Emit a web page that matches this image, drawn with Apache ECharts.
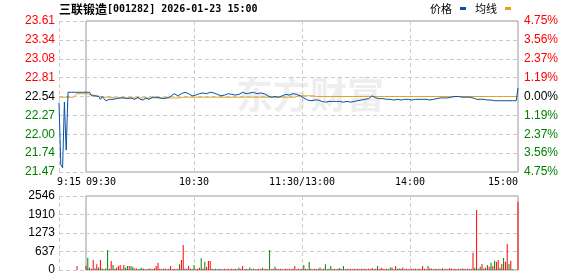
<!DOCTYPE html>
<html><head><meta charset="utf-8">
<script src="https://cdn.jsdelivr.net/npm/echarts@6/dist/echarts.min.js"></script>
<style>html,body{margin:0;padding:0;background:#fff}#c{width:578px;height:276px}</style>
</head><body><div id="c"></div>
<script>
const stockName = '三联锻造';
const stockCode = '001282';
const stamp = '2026-01-23 15:00';
const prevClose = 22.54;
const priceTickLabels = ['21.47','21.74','22.00','22.27','22.54','22.81','23.08','23.34','23.61'];
const pctTickLabels = ['4.75%','3.56%','2.37%','1.19%','0.00%','1.19%','2.37%','3.56%','4.75%'];
const volTickLabels = ['0','637','1273','1910','2546'];
const volMax = 2546;
const pctMax = 4.75;

// call auction 9:15 - 9:30
const preTimes = ['9:15','9:16','9:17','9:18','9:19','9:20','9:21','9:22','9:23','9:24','9:25','9:26','9:27','9:28','9:29','9:30'];
const prePrice = [22.45,21.57,21.53,22.46,21.78,22.60,22.60,22.60,22.60,22.60,22.60,22.60,22.60,22.60,22.60,22.60];
const preAvg = [22.53,22.53,22.53,22.53,22.53,22.53,22.53,22.53,22.53,22.53,22.58,22.58,22.58,22.58,22.58,22.58];
const preVol = [0,0,0,0,0,0,0,0,0,0,140,0,0,0,0,0];
const preDir = 'rrrrrrrrrrrrrrrr';

// trading session 9:30-11:30, 13:00-15:00
const price = [
22.60,22.58,22.60,22.55,22.54,22.55,22.53,22.54,22.50,22.54,
22.55,22.48,22.47,22.50,22.48,22.50,22.52,22.51,22.50,22.52,
22.53,22.52,22.54,22.51,22.50,22.52,22.51,22.50,22.52,22.53,
22.50,22.51,22.49,22.52,22.51,22.50,22.52,22.53,22.54,22.53,
22.53,22.52,22.50,22.51,22.53,22.52,22.52,22.54,22.56,22.58,
22.57,22.55,22.56,22.58,22.59,22.60,22.59,22.58,22.56,22.55,
22.57,22.56,22.57,22.58,22.58,22.59,22.59,22.58,22.58,22.60,
22.60,22.59,22.58,22.57,22.57,22.55,22.54,22.56,22.57,22.58,
22.58,22.57,22.55,22.56,22.55,22.57,22.58,22.60,22.59,22.58,
22.59,22.59,22.60,22.60,22.59,22.58,22.59,22.59,22.58,22.58,
22.56,22.55,22.54,22.53,22.53,22.54,22.54,22.53,22.54,22.55,
22.56,22.57,22.56,22.56,22.57,22.58,22.58,22.57,22.56,22.55,
22.53,22.52,22.50,22.49,22.49,22.48,22.49,22.49,22.50,22.49,
22.48,22.47,22.47,22.46,22.47,22.47,22.46,22.47,22.47,22.47,
22.46,22.47,22.47,22.46,22.47,22.47,22.47,22.46,22.47,22.47,
22.47,22.48,22.48,22.49,22.49,22.50,22.48,22.51,22.53,22.55,
22.53,22.52,22.51,22.51,22.52,22.51,22.51,22.50,22.51,22.50,
22.50,22.49,22.49,22.50,22.50,22.49,22.50,22.50,22.49,22.50,
22.49,22.49,22.50,22.50,22.50,22.50,22.51,22.50,22.50,22.50,
22.49,22.49,22.49,22.50,22.50,22.51,22.51,22.52,22.51,22.52,
22.52,22.52,22.53,22.53,22.53,22.54,22.54,22.54,22.54,22.53,
22.53,22.53,22.53,22.53,22.53,22.52,22.50,22.50,22.49,22.50,
22.50,22.50,22.50,22.49,22.49,22.49,22.49,22.48,22.48,22.48,
22.48,22.48,22.48,22.48,22.48,22.48,22.48,22.48,22.48,22.48,
22.66];
const avgPrice = [
22.58,22.58,22.57,22.57,22.56,22.56,22.55,22.55,22.54,22.54,
22.53,22.53,22.53,22.53,22.53,22.52,22.52,22.52,22.52,22.52,
22.52,22.52,22.52,22.52,22.52,22.52,22.52,22.52,22.52,22.52,
22.52,22.52,22.52,22.52,22.52,22.52,22.52,22.52,22.52,22.52,
22.52,22.52,22.52,22.52,22.52,22.52,22.52,22.52,22.52,22.52,
22.52,22.52,22.52,22.52,22.53,22.53,22.53,22.53,22.53,22.53,
22.53,22.53,22.53,22.53,22.53,22.53,22.53,22.53,22.53,22.53,
22.53,22.53,22.53,22.53,22.53,22.53,22.53,22.53,22.53,22.53,
22.53,22.53,22.53,22.53,22.53,22.53,22.53,22.53,22.53,22.53,
22.53,22.53,22.53,22.53,22.53,22.53,22.53,22.53,22.53,22.53,
22.53,22.53,22.53,22.53,22.53,22.53,22.53,22.53,22.53,22.53,
22.53,22.53,22.53,22.53,22.53,22.53,22.53,22.53,22.55,22.55,
22.55,22.55,22.55,22.55,22.55,22.55,22.55,22.54,22.54,22.54,
22.54,22.54,22.54,22.54,22.54,22.54,22.54,22.54,22.54,22.54,
22.54,22.54,22.54,22.54,22.54,22.54,22.54,22.54,22.54,22.54,
22.54,22.54,22.54,22.54,22.54,22.54,22.54,22.54,22.54,22.54,
22.54,22.54,22.54,22.54,22.54,22.54,22.54,22.54,22.54,22.54,
22.54,22.54,22.54,22.54,22.54,22.54,22.54,22.54,22.54,22.54,
22.54,22.54,22.54,22.54,22.54,22.54,22.54,22.54,22.54,22.54,
22.54,22.54,22.54,22.54,22.54,22.54,22.54,22.54,22.54,22.54,
22.54,22.54,22.54,22.54,22.54,22.54,22.54,22.54,22.54,22.54,
22.54,22.54,22.54,22.54,22.54,22.54,22.54,22.54,22.54,22.54,
22.54,22.54,22.54,22.54,22.54,22.54,22.54,22.54,22.54,22.54,
22.54,22.54,22.54,22.54,22.54,22.54,22.54,22.54,22.54,22.54,
22.54];
const volume = [
150,420,90,40,344,60,200,90,344,50,
30,60,688,40,310,170,40,80,140,170,
40,170,80,140,140,140,100,50,50,30,
40,80,40,30,30,50,40,30,60,140,
250,40,30,40,50,30,40,140,30,40,
30,40,200,344,860,40,40,140,40,30,
170,30,40,80,400,50,285,100,310,310,
40,30,40,30,40,30,30,40,30,40,
30,40,30,40,30,80,40,140,30,40,
30,90,30,40,30,30,40,30,80,30,
40,30,688,30,40,110,40,30,40,30,
30,40,30,40,30,40,140,30,40,30,
40,170,40,30,275,40,30,40,30,40,
90,30,40,200,30,40,140,30,40,30,
40,70,30,140,30,40,30,40,30,40,
30,40,30,40,30,40,30,40,30,70,
30,40,140,30,80,40,30,40,30,90,
90,30,140,40,50,40,90,30,40,30,
30,40,30,40,30,40,30,140,40,30,
140,60,40,30,40,30,40,30,60,30,
40,30,60,40,30,40,30,40,30,50,
40,30,40,30,40,595,80,2064,40,110,
206,50,80,172,110,250,140,320,286,344,
80,206,413,286,894,206,320,30,0,0,
2350];
const volDir =
'rggrrrrgrg'+'rggrrgrrrr'+'grggrggrrr'+'ggrgrrgrrr'+'rrgrrrgrrr'+
'grgrrrgrrg'+'grrrgrgrrr'+'rggrgrrrgr'+'rrgrrgrrgr'+'rgrgrrrrgr'+
'rrgrrgrrrr'+'rrrrrrrrrr'+'rgrrgrgrrr'+'grrgrggrrr'+'rgrgrrrrrr'+
'rrrrgrrrrr'+'rrgrrrrrrg'+'grrrgrrrrr'+'rrrrrrrrrr'+'grrrgrrrgr'+
'rrrrrrrrrg'+'rrrrrrgrgg'+'rrrgrgrgrr'+'grgrrgrgrr'+'r';

// trading-session minute categories
const tradeTimes = [];
for (let i = 0; i <= 240; i++) {
  let m = i <= 120 ? 9 * 60 + 30 + i : 13 * 60 + (i - 120);
  let s = String(Math.floor(m / 60)).padStart(2, '0') + ':' + String(m % 60).padStart(2, '0');
  if (i === 120) s = '11:30/13:00';
  tradeTimes.push(s);
}

const toPct = p => p == null ? null : (p / prevClose - 1) * 100;
const RED = '#ff0000', GREEN = '#008000', BLUE = '#0a50a5', ORANGE = '#e2a21c';
const GRIDC = '#cccccc', BORDER = '#999999';
const dash = { type: [4, 3], color: GRIDC, width: 1 };
const monoFont = 'DejaVu Sans Mono';
const numFont = 'Liberation Sans';

const tickIdx = v => Math.round((Number(v) + pctMax) / (pctMax / 4));
const tickColor = v => { const k = tickIdx(v); return k > 4 ? RED : (k < 4 ? GREEN : '#000'); };

const chart = echarts.init(document.getElementById('c'), null, { renderer: 'canvas' });
chart.setOption({
  animation: false,
  backgroundColor: '#fff',
  title: {
    left: 59, top: 3, padding: 0,
    text: '{a|' + stockName + '}{b|[' + stockCode + '] ' + stamp + '}',
    textStyle: { rich: {
      a: { fontFamily: 'Noto Sans CJK SC', fontSize: 12, color: '#000' },
      b: { fontFamily: monoFont, fontSize: 10, color: '#000' }
    } }
  },
  legend: {
    left: 430, top: 3, padding: 0,
    data: ['价格', '均线'],
    icon: 'rect', itemWidth: 6, itemHeight: 3, align: 'right', itemGap: 9,
    textStyle: { fontFamily: 'Noto Sans CJK SC', fontSize: 11, color: '#000', padding: [0, 3, 0, 0] }
  },
  graphic: [{
    type: 'text', left: 236, top: 76, z: -10, silent: true,
    style: { text: '东方财富', font: 'bold 37px "Noto Sans CJK SC"', fill: '#eeeeee' }
  }],
  grid: [
    { left: 59, top: 21, width: 27, height: 151, show: false },
    { left: 86, top: 21, width: 432, height: 151, show: true, borderColor: BORDER, borderWidth: 1, backgroundColor: 'transparent' },
    { left: 59, top: 196, width: 27, height: 74, show: false },
    { left: 86, top: 196, width: 432, height: 74, show: true, borderColor: BORDER, borderWidth: 1, backgroundColor: 'transparent' }
  ],
  xAxis: [
    { type: 'category', gridIndex: 0, data: preTimes, boundaryGap: false,
      axisLine: { show: false }, axisTick: { show: false },
      axisLabel: { interval: (i) => i === 0, alignMinLabel: 'left', margin: 5, fontFamily: monoFont, fontSize: 10, color: '#000', padding: [0, 0, 0, -2] },
      splitLine: { show: true, interval: (i) => i === 0, lineStyle: dash } },
    { type: 'category', gridIndex: 1, data: tradeTimes, boundaryGap: false,
      axisLine: { show: false }, axisTick: { show: false },
      axisLabel: { interval: (i) => i % 60 === 0, alignMinLabel: 'left', alignMaxLabel: 'right', margin: 5, fontFamily: monoFont, fontSize: 10, color: '#000' },
      splitLine: { show: true, interval: (i) => i % 60 === 0 && i > 0 && i < 240, lineStyle: dash } },
    { type: 'category', gridIndex: 2, data: preTimes, boundaryGap: false,
      axisLine: { show: false }, axisTick: { show: false }, axisLabel: { show: false },
      splitLine: { show: true, interval: (i) => i === 0, lineStyle: dash } },
    { type: 'category', gridIndex: 3, data: tradeTimes, boundaryGap: false,
      axisLine: { show: false }, axisTick: { show: false }, axisLabel: { show: false },
      splitLine: { show: true, interval: (i) => i % 60 === 0 && i > 0 && i < 240, lineStyle: dash } }
  ],
  yAxis: [
    { type: 'value', gridIndex: 0, position: 'left', min: -pctMax, max: pctMax, interval: pctMax / 4,
      axisLine: { show: false }, axisTick: { show: false },
      axisLabel: { margin: 4, fontFamily: numFont, fontSize: 12, formatter: v => priceTickLabels[tickIdx(v)], color: tickColor },
      splitLine: { show: true, lineStyle: dash } },
    { type: 'value', gridIndex: 1, position: 'right', min: -pctMax, max: pctMax, interval: pctMax / 4,
      axisLine: { show: false }, axisTick: { show: false },
      axisLabel: { margin: 6, fontFamily: numFont, fontSize: 12, formatter: v => pctTickLabels[tickIdx(v)], color: tickColor },
      splitLine: { show: true, showMinLine: false, showMaxLine: false, lineStyle: dash } },
    { type: 'value', gridIndex: 2, position: 'left', min: 0, max: volMax, interval: volMax / 4,
      axisLine: { show: false }, axisTick: { show: false },
      axisLabel: { margin: 4, fontFamily: numFont, fontSize: 12, color: '#000', formatter: v => volTickLabels[Math.round(v / (volMax / 4))] },
      splitLine: { show: true, lineStyle: dash } },
    { type: 'value', gridIndex: 3, position: 'right', min: 0, max: volMax, interval: volMax / 4,
      axisLine: { show: false }, axisTick: { show: false }, axisLabel: { show: false },
      splitLine: { show: true, showMinLine: false, showMaxLine: false, lineStyle: dash } }
  ],
  series: [
    { name: '均线', type: 'line', xAxisIndex: 0, yAxisIndex: 0, data: preAvg.map(toPct), showSymbol: false, color: ORANGE, lineStyle: { color: ORANGE, width: 1 }, z: 3 },
    { name: '价格', type: 'line', xAxisIndex: 0, yAxisIndex: 0, data: prePrice.map(toPct), showSymbol: false, color: BLUE, lineStyle: { color: BLUE, width: 1 }, z: 4 },
    { name: '均线', type: 'line', xAxisIndex: 1, yAxisIndex: 1, data: avgPrice.map(toPct), showSymbol: false, color: ORANGE, lineStyle: { color: ORANGE, width: 1 }, z: 3 },
    { name: '价格', type: 'line', xAxisIndex: 1, yAxisIndex: 1, data: price.map(toPct), showSymbol: false, color: BLUE, lineStyle: { color: BLUE, width: 1 }, z: 4 },
    { name: 'vpre', type: 'bar', xAxisIndex: 2, yAxisIndex: 2, data: preVol, barWidth: 1, clip: false,
      itemStyle: { color: p => preDir[p.dataIndex] === 'r' ? RED : GREEN } },
    { name: 'vol', type: 'bar', xAxisIndex: 3, yAxisIndex: 3, data: volume, barWidth: 1, clip: false,
      itemStyle: { color: p => volDir[p.dataIndex] === 'r' ? RED : GREEN } }
  ]
});
</script>
</body></html>
